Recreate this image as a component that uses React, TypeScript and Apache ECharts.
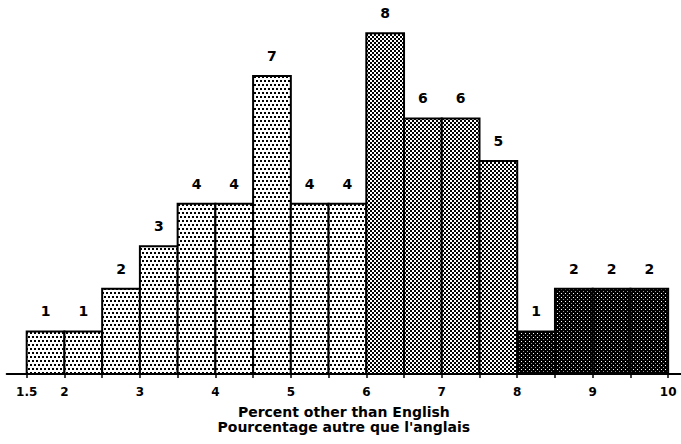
import React, { useEffect, useRef } from "react";
import * as echarts from "echarts";

const binStarts = [1.5, 2, 2.5, 3, 3.5, 4, 4.5, 5, 5.5, 6, 6.5, 7, 7.5, 8, 8.5, 9, 9.5];
const binEnds = [2, 2.5, 3, 3.5, 4, 4.5, 5, 5.5, 6, 6.5, 7, 7.5, 8, 8.5, 9, 9.5, 10];
const counts = [1, 1, 2, 3, 4, 4, 7, 4, 4, 8, 6, 6, 5, 1, 2, 2, 2];
const shadeGroups = [0, 0, 0, 0, 0, 0, 0, 0, 0, 1, 1, 1, 1, 2, 2, 2, 2];
const tickValues = [1.5, 2, 2.5, 3, 3.5, 4, 4.5, 5, 5.5, 6, 6.5, 7, 7.5, 8, 8.5, 9, 9.5, 10];
const labelValues = [1.5, 2, 3, 4, 5, 6, 7, 8, 9, 10];
const axisTitle = "Percent other than English\nPourcentage autre que l'anglais";

const FONT = '"DejaVu Sans", sans-serif';

function makeTile(w: number, h: number, bg: string, dots: [number, number, number, number, string][]) {
  const c = document.createElement("canvas");
  c.width = w;
  c.height = h;
  const ctx = c.getContext("2d")!;
  ctx.fillStyle = bg;
  ctx.fillRect(0, 0, w, h);
  dots.forEach(([x, y, dw, dh, col]) => {
    ctx.fillStyle = col;
    ctx.fillRect(x, y, dw, dh);
  });
  return { image: c, repeat: "repeat", imageWidth: w, imageHeight: h } as any;
}

export default function App() {
  const ref = useRef<HTMLDivElement>(null);
  useEffect(() => {
    if (!ref.current) return;
    const chart = echarts.init(ref.current, undefined, { renderer: "svg" });
    const patterns = [
      makeTile(8, 8, "#ffffff", [
        [0, 0, 2, 2, "#000"],
        [4, 0, 2, 2, "#000"],
        [2, 4, 2, 2, "#000"],
        [6, 4, 2, 2, "#000"],
      ]),
      makeTile(4, 4, "#ffffff", [
        [0, 0, 2, 2, "#000"],
        [2, 2, 2, 2, "#000"],
      ]),
      makeTile(4, 4, "#000000", [
        [1, 1, 1, 1, "#fff"],
        [3, 3, 1, 1, "#999"],
      ]),
    ];
    const data = counts.map((c, i) => [binStarts[i], binEnds[i], c, shadeGroups[i]]);
    chart.setOption({
      animation: false,
      grid: { left: 6.7, right: 0, top: 33.3, bottom: 70 },
      xAxis: {
        type: "value",
        min: 1.235,
        max: 10.17,
        splitLine: { show: false },
        axisLine: { show: true, lineStyle: { color: "#000", width: 2 } },
        axisTick: { show: true, customValues: tickValues, length: 4, lineStyle: { color: "#000", width: 1.5 } },
        axisLabel: {
          customValues: labelValues,
          color: "#000",
          fontFamily: FONT,
          fontWeight: "bold",
          fontSize: 12,
          margin: 12,
          formatter: (v: number) => String(v),
        },
        name: axisTitle,
        nameLocation: "middle",
        nameGap: 30,
        nameTextStyle: { color: "#000", fontFamily: FONT, fontWeight: "bold", fontSize: 14, lineHeight: 15 },
      },
      yAxis: { type: "value", min: 0, max: 8, show: false, splitLine: { show: false } },
      series: [
        {
          type: "custom",
          data,
          renderItem: (params: any, api: any) => {
            const s = api.value(0);
            const e = api.value(1);
            const v = api.value(2);
            const g = api.value(3);
            const tl = api.coord([s, v]);
            const br = api.coord([e, 0]);
            return {
              type: "group",
              children: [
                {
                  type: "rect",
                  shape: { x: tl[0], y: tl[1], width: br[0] - tl[0], height: br[1] - tl[1] },
                  style: { fill: patterns[g], stroke: "#000", lineWidth: 2 },
                },
                {
                  type: "text",
                  x: (tl[0] + br[0]) / 2,
                  y: tl[1] - 20,
                  style: {
                    text: String(v),
                    fill: "#000",
                    font: `bold 14px ${FONT}`,
                    align: "center",
                    verticalAlign: "middle",
                  },
                },
              ],
            };
          },
        },
      ],
    });
    return () => chart.dispose();
  }, []);
  return <div ref={ref} style={{ position: "absolute", left: 0, top: 0, width: 681, height: 444 }} />;
}
